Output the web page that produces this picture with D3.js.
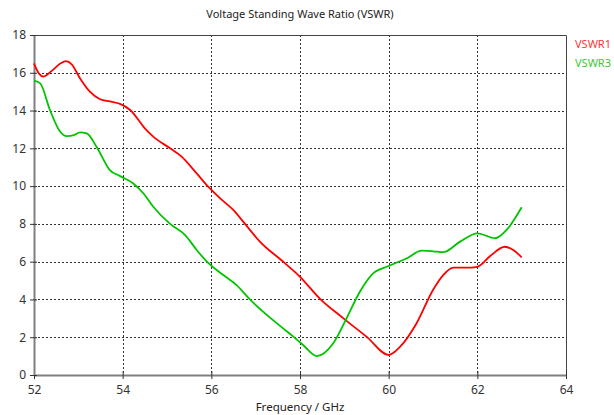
<!DOCTYPE html>
<html>
<head>
<meta charset="utf-8">
<script src="https://cdn.jsdelivr.net/npm/d3@7"></script>
<style>
  html, body { margin: 0; padding: 0; background: #fff; }
  svg { display: block; font-family: "Noto Sans", "DejaVu Sans", sans-serif; }
</style>
</head>
<body>
<svg id="chart" width="614" height="415"></svg>
<script>
// Frequency sample points (GHz) and VSWR values for each port
const vswr1Freq = [52.0, 52.1, 52.21, 52.4, 52.6, 52.72, 52.85, 53.04, 53.26, 53.49, 53.71, 53.94,
  54.17, 54.5, 54.69, 55.07, 55.33, 55.67, 55.93, 56.2, 56.5, 56.76, 57.1, 57.62, 58.0, 58.44,
  58.98, 59.5, 60.0, 60.26, 60.63, 61.0, 61.23, 61.46, 61.76, 62.0, 62.29, 62.62, 62.81, 63.0];
const vswr1Vals = [16.5, 16.0, 15.8, 16.1, 16.5, 16.62, 16.45, 15.7, 15.0, 14.6, 14.48, 14.35,
  14.03, 13.06, 12.62, 12.0, 11.56, 10.67, 9.97, 9.35, 8.73, 8.0, 7.05, 6.0, 5.2, 4.06,
  3.0, 2.03, 1.06, 1.5, 2.74, 4.5, 5.29, 5.68, 5.68, 5.73, 6.3, 6.79, 6.62, 6.23];

const vswr3Freq = [52.0, 52.14, 52.36, 52.59, 52.74, 52.9, 53.04, 53.19, 53.41, 53.71, 53.94,
  54.24, 54.47, 54.69, 55.07, 55.41, 55.67, 55.9, 56.27, 56.57, 56.87, 57.25, 57.62, 57.85,
  58.07, 58.38, 58.75, 59.05, 59.35, 59.65, 60.0, 60.4, 60.75, 61.0, 61.23, 61.61, 62.0, 62.4,
  62.66, 63.0];
const vswr3Vals = [15.58, 15.44, 14.03, 12.88, 12.65, 12.7, 12.85, 12.79, 12.09, 10.85, 10.53,
  10.14, 9.61, 8.91, 8.0, 7.41, 6.62, 6.0, 5.29, 4.76, 4.0, 3.18, 2.47, 2.03,
  1.59, 1.0, 1.68, 3.0, 4.41, 5.38, 5.77, 6.17, 6.58, 6.55, 6.5, 7.06, 7.5, 7.24,
  7.68, 8.88];

const xTicks = [52, 54, 56, 58, 60, 62, 64];
const yTicks = [0, 2, 4, 6, 8, 10, 12, 14, 16, 18];

const seriesNames = ["VSWR1", "VSWR3"];
const seriesColors = ["#ff0000", "#00c400"];
const legendColors = ["#ff3333", "#33cc33"];

const svg = d3.select("#chart");
const plotLeft = 34, plotRight = 566, plotTop = 35, plotBottom = 375;

const x = d3.scaleLinear().domain([52, 64]).range([plotLeft, plotRight]);
const y = d3.scaleLinear().domain([0, 18]).range([plotBottom, plotTop]);

// dotted grid
const grid = svg.append("g").attr("stroke", "#333").attr("stroke-width", 1)
  .attr("stroke-dasharray", "2,2").attr("shape-rendering", "crispEdges");
grid.selectAll("line.v").data(xTicks.slice(1, -1)).join("line")
  .attr("x1", d => Math.round(x(d)) + 0.5).attr("x2", d => Math.round(x(d)) + 0.5)
  .attr("y1", plotTop).attr("y2", plotBottom);
grid.selectAll("line.h").data(yTicks.slice(1, -1)).join("line")
  .attr("y1", d => Math.round(y(d)) + 0.5).attr("y2", d => Math.round(y(d)) + 0.5)
  .attr("x1", plotLeft).attr("x2", plotRight);

// frame: thin top/right, heavier left/bottom
svg.append("path")
  .attr("d", `M${plotLeft},${plotTop + 0.5}H${plotRight + 0.5}V${plotBottom}`)
  .attr("fill", "none").attr("stroke", "#444").attr("stroke-width", 1);

const xAxis = svg.append("g").attr("transform", `translate(0,${plotBottom})`)
  .call(d3.axisBottom(x).tickValues(xTicks).tickSize(4).tickSizeOuter(0).tickPadding(6));
const yAxis = svg.append("g").attr("transform", `translate(${plotLeft},0)`)
  .call(d3.axisLeft(y).tickValues(yTicks).tickSize(4).tickSizeOuter(0).tickPadding(4));

[xAxis, yAxis].forEach(a => {
  a.select(".domain").attr("stroke", "#808080").attr("stroke-width", 2);
  a.selectAll(".tick text").attr("fill", "#333").style("font-size", "12px")
    .style("font-family", "\"Noto Sans\", sans-serif");
});
xAxis.selectAll(".tick line").attr("stroke", "#333").attr("y1", -4).attr("y2", 4);
yAxis.selectAll(".tick line").attr("stroke", "#333").attr("x1", -4).attr("x2", 3);

// curves
const line = d3.line().x(d => x(d[0])).y(d => y(d[1])).curve(d3.curveMonotoneX);
const series = [d3.zip(vswr1Freq, vswr1Vals), d3.zip(vswr3Freq, vswr3Vals)];
svg.append("g").selectAll("path").data(series).join("path")
  .attr("d", line).attr("fill", "none")
  .attr("stroke", (d, i) => seriesColors[i]).attr("stroke-width", 1.8)
  .attr("stroke-linejoin", "round");

// title and axis label
svg.append("text").attr("x", 300).attr("y", 18).attr("text-anchor", "middle")
  .attr("fill", "#222").style("font-size", "11px").text("Voltage Standing Wave Ratio (VSWR)");
svg.append("text").attr("x", 300).attr("y", 411).attr("text-anchor", "middle")
  .attr("fill", "#222").style("font-size", "11.5px").text("Frequency / GHz");

// legend
svg.append("g").selectAll("text").data(seriesNames).join("text")
  .attr("x", 575).attr("y", (d, i) => 48 + i * 19)
  .attr("fill", (d, i) => legendColors[i]).style("font-size", "11px").text(d => d);
</script>
</body>
</html>
